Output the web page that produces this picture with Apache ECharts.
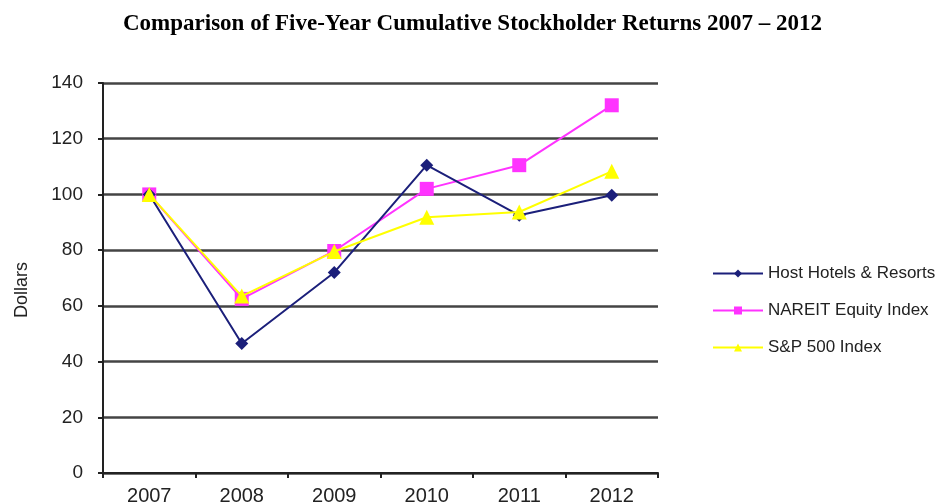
<!DOCTYPE html>
<html>
<head>
<meta charset="utf-8">
<script src="https://cdn.jsdelivr.net/npm/echarts@6/dist/echarts.min.js"></script>
<style>
  html, body { margin: 0; padding: 0; background: #fff; }
  #chart { width: 940px; height: 504px; }
</style>
</head>
<body>
<div id="chart"></div>
<script>
var years = ['2007', '2008', '2009', '2010', '2011', '2012'];
var hostHotels = [100, 46.5, 72, 110.5, 92.5, 99.7];
var nareit = [100, 62.5, 79.7, 102, 110.5, 132];
var sp500 = [100, 63.5, 79.5, 91.8, 93.7, 108.3];

var chart = echarts.init(document.getElementById('chart'));

var option = {
	animation: false,
	color: ['#1b1f7a', '#ff33ff', '#ffff00'],
	title: {
		text: 'Comparison of Five-Year Cumulative Stockholder Returns 2007 \u2013 2012',
		left: 118,
		top: 8,
		textStyle: {
			fontFamily: 'Liberation Serif',
			fontWeight: 'bold',
			fontSize: 23,
			color: '#000'
		}
	},
	grid: {
		left: 103,
		right: 282,
		top: 83,
		bottom: 31,
		outerBoundsMode: 'none'
	},
	legend: {
		orient: 'vertical',
		left: 707,
		top: 260,
		itemWidth: 50,
		itemHeight: 10,
		itemGap: 20,
		textStyle: {
			fontFamily: 'Liberation Sans',
			fontSize: 17,
			color: '#222'
		},
		data: ['Host Hotels & Resorts', 'NAREIT Equity Index', 'S&P 500 Index']
	},
	xAxis: {
		type: 'category',
		data: years,
		boundaryGap: true,
		axisLine: { lineStyle: { color: '#222', width: 2 } },
		axisTick: { show: true, length: 5, inside: false, lineStyle: { color: '#222', width: 2 } },
		axisLabel: {
			fontFamily: 'Liberation Sans',
			fontSize: 20,
			color: '#222',
			margin: 13
		}
	},
	yAxis: {
		type: 'value',
		min: 0,
		max: 140,
		interval: 20,
		name: 'Dollars',
		nameLocation: 'middle',
		nameGap: 72,
		nameTextStyle: {
			fontFamily: 'Liberation Sans',
			fontSize: 18,
			color: '#222',
			padding: [0, 0, 0, -24]
		},
		axisLine: { show: true, lineStyle: { color: '#222', width: 2 } },
		axisTick: { show: true, length: 5, lineStyle: { color: '#222', width: 2 } },
		axisLabel: {
			fontFamily: 'Liberation Sans',
			fontSize: 19,
			color: '#222',
			margin: 20
		},
		splitLine: { show: true, lineStyle: { color: '#444', width: 2.5 } }
	},
	series: [
		{
			name: 'Host Hotels & Resorts',
			type: 'line',
			data: hostHotels,
			symbol: 'diamond',
			symbolSize: 13,
			lineStyle: { width: 2 },
			z: 3
		},
		{
			name: 'NAREIT Equity Index',
			type: 'line',
			data: nareit,
			symbol: 'rect',
			symbolSize: 14,
			lineStyle: { width: 2 },
			z: 2
		},
		{
			name: 'S&P 500 Index',
			type: 'line',
			data: sp500,
			symbol: 'triangle',
			symbolSize: 15,
			lineStyle: { width: 2 },
			z: 4
		}
	]
};

chart.setOption(option);
</script>
</body>
</html>
